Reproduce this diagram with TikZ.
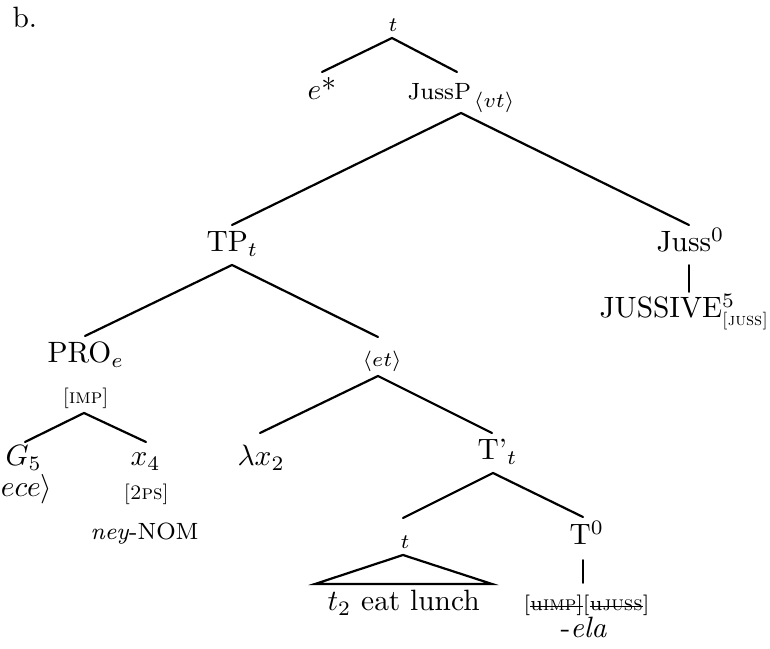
\documentclass[tikz,border=0pt]{standalone}
\newsavebox\stkbox
\newcommand\strikeit[1]{\sbox\stkbox{#1}\rlap{\rule[0.45ex]{\wd\stkbox}{0.45pt}}\usebox\stkbox}
\begin{document}
\begin{tikzpicture}[x=0.34pt,y=-0.34pt,
  lbl/.style={anchor=base west,inner sep=0pt,font=\normalsize},
  sml/.style={anchor=base west,inner sep=0pt,font=\scriptsize},
  branch/.style={line width=0.75pt,line cap=round,line join=miter}]
\useasboundingbox (0,0) rectangle (770,649);

% labels
\node[lbl] (b) at (12,28) {b.};
\node[sml] (top) at (388,32) {$t$};
\node[lbl] (estar) at (307,100) {$e$*};
\node[lbl,font=\footnotesize] (jussp) at (407,100) {JussP\kern1pt$_{\hbox{\scriptsize$\langle vt\rangle$}}$};
\node[lbl] (tp) at (206,252) {TP$_t$};
\node[lbl] (juss) at (656,252) {Juss$^0$};
\node[lbl] (jussive) at (599,318) {JUSSIVE$^5_{\hbox{\fontsize{6}{7}\selectfont\textsc{[juss]}}}$};
\node[lbl] (pro) at (47,363) {PRO$_e$};
\node[sml] (et) at (362,367) {$\langle et\rangle$};
\node[sml] (imp) at (62,404) {\textsc{[imp]}};
\node[lbl] (g) at (5,466) {$G_5$};
\node[lbl] (x) at (130,466) {$x_4$};
\node[lbl] (lam) at (237,466) {$\lambda x_2$};
\node[lbl] (tbar) at (477,460) {T'$_t$};
\node[lbl,anchor=base east] (ece) at (53,497) {$\langle ece\rangle$};
\node[sml] (ps) at (123,500) {\textsc{[2ps]}};
\node[lbl,font=\footnotesize] (ney) at (90,540) {\textit{ney}-NOM};
\node[sml] (tsmall) at (400,549) {$t$};
\node[lbl] (lunch) at (327,611) {$t_2$ eat lunch};
\node[lbl] (t0) at (569,545) {T$^0$};
\node[sml] (feat) at (523,611) {[\strikeit{u\textsc{imp}]}[\strikeit{u\textsc{juss}}]};
\node[lbl] (ela) at (560,638) {-\textit{ela}};

% branch points
\coordinate (a1) at (392,38);  \coordinate (l1) at (322,72);  \coordinate (r1) at (457,72);
\coordinate (a2) at (461,113); \coordinate (l2) at (232,225); \coordinate (r2) at (689,225);
\coordinate (a3) at (232,265); \coordinate (l3) at (85,336);  \coordinate (r3) at (378,337);
\coordinate (a4) at (84,413);  \coordinate (l4) at (25,442);  \coordinate (r4) at (146,442);
\coordinate (a5) at (378,376); \coordinate (l5) at (260,433); \coordinate (r5) at (492,433);
\coordinate (a6) at (493,473); \coordinate (l6) at (403,518); \coordinate (r6) at (583,517);
\coordinate (ta) at (403,555); \coordinate (tl) at (315,584); \coordinate (tr) at (492,584);
\coordinate (v1) at (689,265); \coordinate (v2) at (689,292);
\coordinate (w1) at (583,560); \coordinate (w2) at (583,583);

\draw[branch] (l1) -- (a1) -- (r1);
\draw[branch] (l2) -- (a2) -- (r2);
\draw[branch] (l3) -- (a3) -- (r3);
\draw[branch] (l4) -- (a4) -- (r4);
\draw[branch] (l5) -- (a5) -- (r5);
\draw[branch] (l6) -- (a6) -- (r6);
\draw[branch] (ta) -- (tl) -- (tr) -- cycle;
\draw[branch,line width=0.6pt] (v1) -- (v2);
\draw[branch,line width=0.6pt] (w1) -- (w2);
\end{tikzpicture}
\end{document}
